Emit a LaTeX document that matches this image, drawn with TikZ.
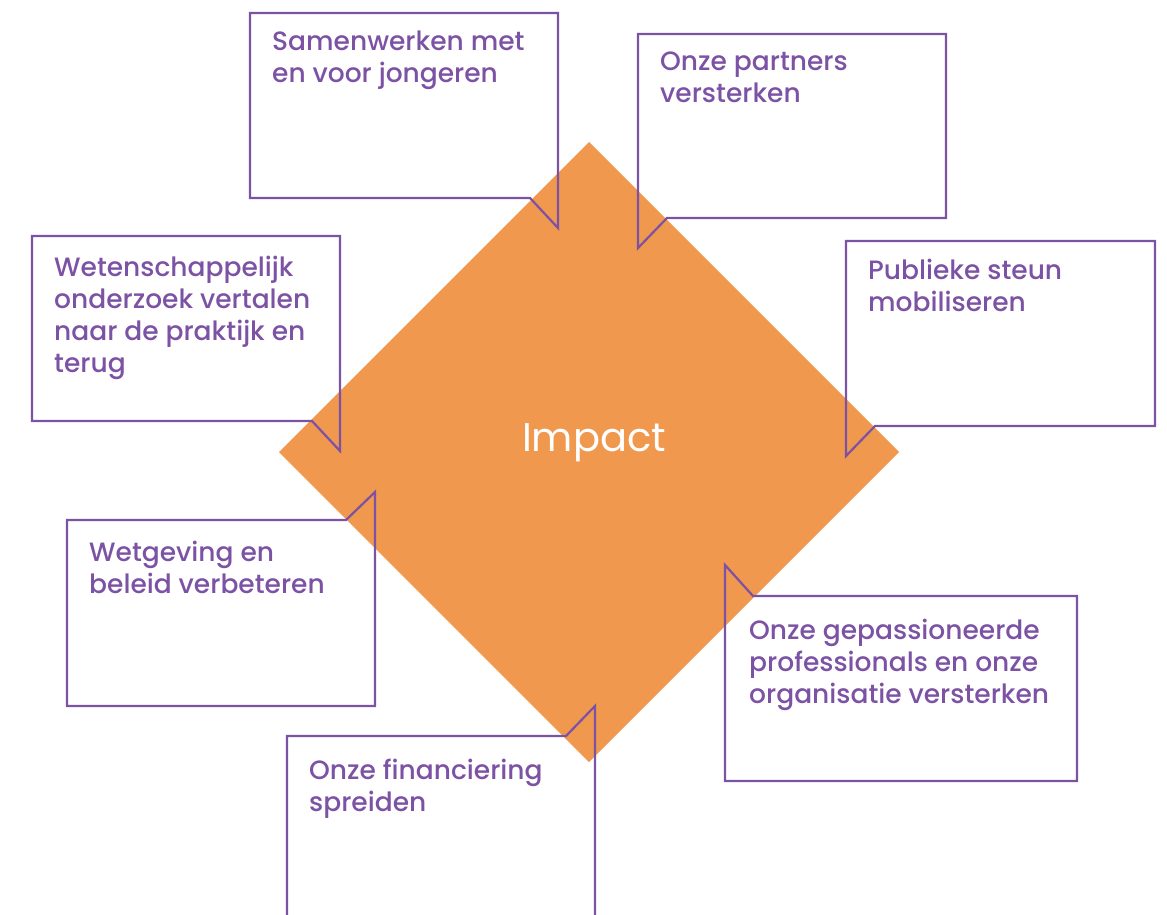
\documentclass[tikz,border=0pt]{standalone}
\usepackage{fontspec}
\setmainfont{Poppins}
\newfontfamily\calloutfont{Poppins}[UprightFont=* Medium]
\definecolor{impactorange}{RGB}{240,152,78}
\definecolor{calloutpurple}{RGB}{124,82,164}

\begin{document}
\begin{tikzpicture}[x=1pt,y=-1pt,
        callout/.style={draw=calloutpurple, line width=2.2pt, line join=miter},
        calloutlabel/.style={anchor=north west, inner sep=0pt, text=calloutpurple, align=left, font=\calloutfont\fontsize{26.5}{32}\selectfont}]
        \useasboundingbox (0,0) rectangle (1167,915);
        \clip (0,0) rectangle (1167,915);
        \fill[impactorange] (589,142) -- (899,452) -- (589,762) -- (279,452) -- cycle;
        \node[text=white, font=\fontsize{40}{48}\selectfont] (impact) at (594,443) {Impact};
        \draw[callout] (250,13) -- (558,13) -- (558,228) -- (530,198) -- (250,198) -- cycle;
        \node[calloutlabel] (jongeren) at (272,31) {Samenwerken met\\en voor jongeren};
        \draw[callout] (638,34) -- (946,34) -- (946,218) -- (667,218) -- (638,248) -- cycle;
        \node[calloutlabel] (partners) at (660,52) {Onze partners\\versterken};
        \draw[callout] (846,241) -- (1155,241) -- (1155,426) -- (875,426) -- (846,456) -- cycle;
        \node[calloutlabel] (steun) at (868,259) {Publieke steun\\mobiliseren};
        \draw[callout] (32,236) -- (340,236) -- (340,451) -- (312,421) -- (32,421) -- cycle;
        \node[calloutlabel] (onderzoek) at (54,256) {Wetenschappelijk\\onderzoek vertalen\\naar de praktijk en\\terug};
        \draw[callout] (67,520) -- (346,520) -- (375,492) -- (375,706) -- (67,706) -- cycle;
        \node[calloutlabel] (beleid) at (89,541) {Wetgeving en\\beleid verbeteren};
        \draw[callout] (725,565) -- (753,596) -- (1077,596) -- (1077,781) -- (725,781) -- cycle;
        \node[calloutlabel] (professionals) at (749,619) {Onze gepassioneerde\\professionals en onze\\organisatie versterken};
        \draw[callout] (287,930) -- (287,736) -- (566,736) -- (595,706) -- (595,930);
        \node[calloutlabel] (financiering) at (309,759) {Onze financiering\\spreiden};
    \end{tikzpicture}
\end{document}
